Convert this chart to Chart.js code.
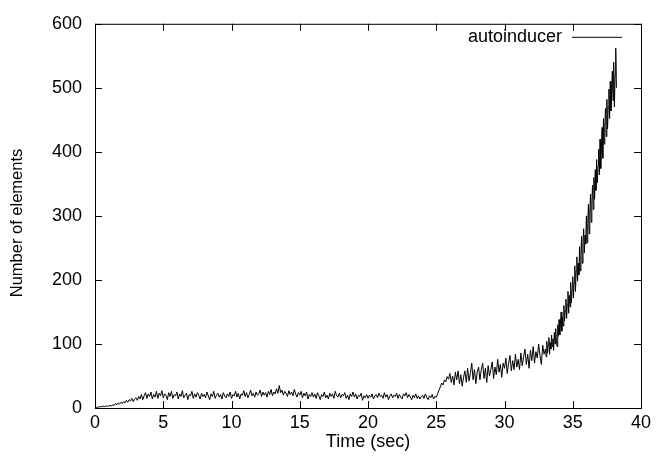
<!DOCTYPE html>
<html>
<head>
<meta charset="utf-8">
<script src="https://cdn.jsdelivr.net/npm/chart.js"></script>
<style>
  html, body { margin: 0; padding: 0; background: #fff; }
  #wrap { width: 662px; height: 466px; }
</style>
</head>
<body>
<div id="wrap"><canvas id="myChart" width="662" height="466"></canvas></div>
<script>
const seriesLabel = 'autoinducer';

// 0 .. 32.9 sec, one sample every 0.1 sec
const earlyStep = 0.1;
const earlyCounts = [
  0, 1, 1, 2, 2, 2, 3, 2, 3, 3,
  3, 4, 3, 5, 4, 7, 5, 8, 6, 9,
  7, 10, 8, 12, 9, 13, 11, 15, 10, 14,
  16, 12, 18, 14, 21, 13, 19, 24, 15, 22,
  18, 25, 14, 21, 17, 26, 15, 23, 19, 27,
  16, 22, 20, 13, 24, 18, 26, 15, 21, 19,
  25, 14, 22, 18, 27, 16, 20, 23, 13, 21,
  19, 26, 15, 22, 17, 24, 20, 14, 23, 18,
  21, 16, 25, 19, 13, 22, 18, 26, 15, 20,
  23, 17, 21, 14, 24, 19, 16, 22, 18, 25,
  15, 21, 19, 26, 17, 23, 14, 22, 20, 27,
  18, 24, 16, 21, 28, 19, 23, 17, 25, 20,
  22, 28, 18, 25, 20, 24, 17, 26, 21, 29,
  19, 25, 22, 30, 23, 35, 24, 28, 20, 26,
  23, 18, 27, 21, 25, 19, 29, 22, 17, 24,
  20, 26, 16, 23, 19, 25, 14, 21, 18, 24,
  17, 22, 15, 24, 19, 13, 21, 18, 25, 16,
  20, 14, 23, 18, 22, 15, 26, 19, 17, 23,
  16, 21, 19, 24, 15, 20, 13, 22, 18, 25,
  17, 22, 14, 20, 18, 23, 12, 19, 16, 21,
  15, 20, 17, 22, 14, 19, 21, 16, 23, 18,
  20, 15, 24, 17, 21, 13, 19, 22, 16, 20,
  18, 23, 15, 21, 17, 14, 22, 19, 24, 16,
  21, 17, 13, 20, 16, 22, 15, 19, 14, 18,
  20, 15, 22, 17, 13, 19, 16, 21, 14, 18,
  17, 22, 28, 33, 39, 36, 44, 41, 49, 45,
  54, 40, 50, 36, 56, 44, 58, 38, 52, 34,
  48, 58, 40, 62, 42, 54, 70, 44, 60, 38,
  56, 64, 44, 60, 70, 46, 62, 40, 66, 50,
  60, 72, 46, 64, 52, 76, 56, 68, 48, 70,
  62, 78, 54, 70, 82, 58, 74, 60, 84, 64,
  76, 60, 86, 66, 80, 92, 68, 84, 62, 90,
  74, 96, 70, 88, 78, 100, 82, 68, 98, 84
];

// 33 .. 38.2 sec, denser sampling where the count takes off
const lateStart = 33;
const lateStep = 0.05;
const lateCounts = [
  92, 80, 104, 86, 98, 110, 84, 102, 92, 114,
  96, 108, 90, 118, 100, 124, 106, 96, 130, 112,
  138, 114, 132, 150, 120, 142, 128, 160, 136, 152,
  170, 140, 162, 182, 148, 176, 158, 196, 164, 184,
  205, 172, 196, 222, 182, 214, 236, 198, 226, 208,
  252, 214, 240, 268, 226, 258, 280, 242, 270, 256,
  300, 258, 288, 318, 272, 306, 334, 290, 322, 348,
  310, 360, 326, 372, 340, 388, 352, 378, 404, 364,
  420, 374, 408, 438, 390, 452, 412, 440, 468, 424,
  482, 436, 470, 498, 452, 510, 464, 492, 526, 480,
  540, 470, 518, 562, 500
];

const xTicks = [0, 5, 10, 15, 20, 25, 30, 35, 40];
const yTicks = [0, 100, 200, 300, 400, 500, 600];

const points = earlyCounts.map((v, i) => ({ x: Math.round(i * earlyStep * 100) / 100, y: v }))
  .concat(lateCounts.map((v, i) => ({ x: Math.round((lateStart + i * lateStep) * 100) / 100, y: v })));

const fontName = '"Liberation Sans", Arial, sans-serif';

// gnuplot look: full border, inward ticks on all sides, key at top right
const gnuplotFrame = {
  id: 'gnuplotFrame',
  afterDraw(chart) {
    const { ctx, chartArea: a, scales } = chart;
    ctx.save();
    ctx.strokeStyle = '#000';
    ctx.lineWidth = 1;
    ctx.strokeRect(a.left + 0.5, a.top + 0.5, a.right - a.left, a.bottom - a.top);
    ctx.beginPath();
    xTicks.forEach(t => {
      const px = Math.round(scales.x.getPixelForValue(t)) + 0.5;
      ctx.moveTo(px, a.bottom); ctx.lineTo(px, a.bottom - 7);
      ctx.moveTo(px, a.top); ctx.lineTo(px, a.top + 7);
    });
    yTicks.forEach(t => {
      const py = Math.round(scales.y.getPixelForValue(t)) + 0.5;
      ctx.moveTo(a.left, py); ctx.lineTo(a.left + 7, py);
      ctx.moveTo(a.right, py); ctx.lineTo(a.right - 7, py);
    });
    ctx.stroke();

    ctx.fillStyle = '#000';
    ctx.font = '18px ' + fontName;
    ctx.textAlign = 'right';
    ctx.textBaseline = 'middle';
    ctx.fillText(seriesLabel, a.right - 79, a.top + 13);
    ctx.beginPath();
    ctx.moveTo(a.right - 69, a.top + 13.5);
    ctx.lineTo(a.right - 19, a.top + 13.5);
    ctx.stroke();

    // y axis title, placed like gnuplot does it
    ctx.font = '16.5px ' + fontName;
    ctx.textAlign = 'center';
    ctx.translate(17, 223);
    ctx.rotate(-Math.PI / 2);
    ctx.fillText('Number of elements', 0, 0);
    ctx.restore();
  }
};

const ctx = document.querySelector('#myChart');
new Chart(ctx, {
  type: 'line',
  data: {
    datasets: [{
      label: seriesLabel,
      data: points,
      borderColor: '#000',
      borderWidth: 1,
      pointRadius: 0,
      tension: 0,
      fill: false
    }]
  },
  options: {
    responsive: false,
    animation: false,
    layout: { padding: { top: 12, right: 21, left: 0, bottom: 0 } },
    plugins: { legend: { display: false }, tooltip: { enabled: false } },
    scales: {
      x: {
        type: 'linear',
        min: 0, max: 40,
        afterBuildTicks: s => { s.ticks = xTicks.map(v => ({ value: v })); },
        afterFit: s => { s.height = 58; },
        grid: { display: false, drawTicks: false },
        border: { display: false },
        ticks: { color: '#000', font: { family: fontName, size: 18 }, padding: 4, maxRotation: 0 },
        title: { display: true, text: 'Time (sec)', color: '#000', font: { family: fontName, size: 18 }, padding: { top: 0, bottom: 13 } }
      },
      y: {
        min: 0, max: 600,
        afterBuildTicks: s => { s.ticks = yTicks.map(v => ({ value: v })); },
        afterFit: s => { s.width = 95; },
        grid: { display: false, drawTicks: false },
        border: { display: false },
        ticks: { color: '#000', font: { family: fontName, size: 18 }, padding: 13 },
        title: { display: false }
      }
    }
  },
  plugins: [gnuplotFrame]
});
</script>
</body>
</html>
